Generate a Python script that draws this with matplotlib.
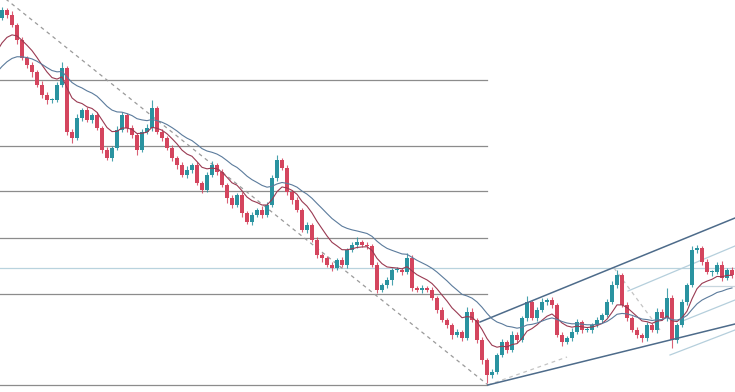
import numpy as np
import pandas as pd
import matplotlib
matplotlib.use("Agg")
import matplotlib.pyplot as plt

# Closing prices: a short lead-in that feeds the moving averages, then the visible session
lead_close = [290, 296, 292, 305, 312, 320, 318, 332, 345, 352, 365, 374]
close = [
    382, 377, 367, 352, 334, 327, 320, 307, 297, 292,
    292, 307, 324, 260, 254, 274, 282, 272, 277, 264,
    242, 234, 244, 262, 277, 264, 257, 242, 260, 264,
    284, 260, 254, 244, 234, 227, 217, 222, 227, 209,
    202, 217, 227, 220, 207, 194, 187, 197, 179, 170,
    177, 182, 177, 187, 214, 232, 224, 200, 192, 182,
    162, 167, 152, 137, 134, 127, 124, 132, 127, 142,
    147, 150, 147, 146, 127, 102, 107, 112, 122, 122,
    120, 134, 104, 102, 104, 102, 94, 82, 72, 67,
    57, 60, 54, 80, 72, 52, 32, 17, 20, 37,
    50, 42, 57, 52, 74, 90, 74, 82, 90, 92,
    87, 57, 50, 54, 60, 70, 62, 62, 67, 72,
    77, 90, 107, 117, 87, 74, 62, 57, 54, 67,
    62, 80, 74, 94, 52, 67, 90, 107, 142, 144,
    130, 120, 120, 127, 114, 122, 117,
]

# Wick lengths beyond the candle body (upper / lower)
lead_upper = [2, 3, 2, 3, 2, 3, 2, 3, 2, 3, 2, 3]
upper_wick = [
    3, 2, 4, 2, 3, 2, 3, 2, 4, 3,
    2, 3, 6, 2, 3, 4, 2, 3, 2, 3,
    2, 3, 2, 4, 3, 2, 3, 2, 3, 4,
    8, 2, 3, 2, 3, 2, 3, 4, 2, 3,
    2, 3, 4, 2, 3, 2, 3, 2, 3, 2,
    3, 2, 4, 3, 3, 5, 2, 3, 2, 3,
    2, 3, 2, 3, 2, 2, 3, 2, 3, 2,
    3, 5, 2, 3, 2, 3, 2, 3, 2, 3,
    2, 5, 3, 2, 3, 2, 3, 2, 3, 2,
    2, 3, 2, 5, 4, 2, 3, 2, 3, 2,
    3, 2, 4, 3, 2, 6, 2, 3, 4, 2,
    3, 2, 3, 2, 4, 3, 2, 3, 2, 3,
    2, 3, 4, 5, 2, 3, 2, 3, 2, 3,
    2, 4, 3, 10, 3, 2, 3, 2, 4, 3,
    2, 3, 2, 3, 4, 2, 3,
]
lead_lower = [3, 2, 3, 2, 3, 2, 3, 2, 3, 2, 3, 2]
lower_wick = [
    2, 3, 2, 4, 2, 3, 5, 2, 3, 4,
    3, 2, 2, 3, 5, 2, 3, 2, 3, 2,
    3, 2, 3, 2, 2, 4, 3, 5, 2, 2,
    3, 2, 3, 2, 3, 4, 2, 3, 3, 2,
    3, 2, 2, 3, 2, 5, 3, 2, 4, 2,
    3, 2, 3, 2, 2, 3, 2, 3, 4, 2,
    2, 3, 2, 3, 4, 2, 3, 2, 2, 3,
    2, 3, 2, 3, 2, 3, 2, 3, 5, 2,
    3, 2, 3, 2, 3, 2, 2, 3, 2, 3,
    4, 2, 3, 2, 2, 3, 4, 8, 3, 2,
    2, 3, 2, 3, 2, 3, 2, 3, 2, 3,
    3, 2, 4, 2, 3, 2, 3, 2, 3, 2,
    3, 2, 2, 3, 2, 3, 2, 3, 4, 3,
    2, 3, 2, 3, 8, 3, 2, 3, 2, 3,
    3, 2, 4, 2, 3, 2, 3,
]

# Retracement levels drawn across the decline, and the pivot level across the whole chart
fib_levels = [312, 246, 201, 154, 98, 7]
fib_span = (-0.4, 97.0)
pivot_level = 124
minor_level = 106
minor_span = (139.6, 146.6)

# Trend drawings as (bar index, price) anchor pairs
down_trend = [(-1.0, 400), (97.2, 7)]
channel_top = [(95.6, 70), (146.6, 174)]
channel_bottom = [(97.2, 7), (146.6, 68)]
fan_lines = [
    [(125.2, 101), (146.6, 146)],
    [(135.6, 70), (146.6, 92)],
    [(133.6, 37), (146.6, 62)],
]
swing_links = [
    [(97.2, 7), (113.0, 35)],
    [(122.4, 124), (131.6, 62)],
]

fast_span = 9
slow_span = 21

closes = np.array(lead_close + close, dtype=float)
n_lead = len(lead_close)
idx = np.arange(len(closes)) - n_lead
opens = np.r_[closes[0], closes[:-1]]
highs = np.maximum(opens, closes) + np.array(lead_upper + upper_wick, dtype=float)
lows = np.minimum(opens, closes) - np.array(lead_lower + lower_wick, dtype=float)

series = pd.Series(closes)
fast_ma = series.ewm(span=fast_span, adjust=False).mean().to_numpy()
slow_ma = series.ewm(span=slow_span, adjust=False).mean().to_numpy()

BULL = "#2a93a0"
BEAR = "#d4455e"

fig = plt.figure(figsize=(7.35, 3.92), dpi=100)
ax = fig.add_axes([0, 0, 1, 1])
ax.set_xlim(-0.4, 146.6)
ax.set_ylim(0, 392)
ax.axis("off")

# horizontal levels
for lvl in fib_levels:
    ax.plot(fib_span, [lvl, lvl], color="#8c8c8c", lw=0.9, zorder=1)
ax.axhline(pivot_level, color="#b9d3de", lw=0.9, zorder=1)
ax.plot(minor_span, [minor_level, minor_level], color="#c8d6de", lw=0.9, zorder=1)

# trend drawings
(x0, y0), (x1, y1) = down_trend
ax.plot([x0, x1], [y0, y1], color="#9a9a9a", lw=0.9, ls=(0, (3, 3)), zorder=1)
for seg in swing_links:
    (x0, y0), (x1, y1) = seg
    ax.plot([x0, x1], [y0, y1], color="#c4c4c4", lw=0.9, ls=(0, (3, 3)), zorder=1)
for seg in fan_lines:
    (x0, y0), (x1, y1) = seg
    ax.plot([x0, x1], [y0, y1], color="#b5cfdc", lw=0.9, zorder=1)
for seg in (channel_top, channel_bottom):
    (x0, y0), (x1, y1) = seg
    ax.plot([x0, x1], [y0, y1], color="#4d6b8a", lw=1.1, zorder=4)

# candles
up = closes >= opens
colors = np.where(up, BULL, BEAR)
ax.vlines(idx, lows, highs, colors=colors, lw=0.8, alpha=0.85, zorder=2)
body = np.where(np.abs(closes - opens) < 1, 1.0, closes - opens)
ax.bar(idx, body, bottom=opens, width=0.62, color=colors, linewidth=0, zorder=3)

# moving averages
ax.plot(idx, fast_ma, color="#9a3a52", lw=0.8, zorder=5)
ax.plot(idx, slow_ma, color="#5b7b9c", lw=0.8, zorder=5)

fig.savefig("out.png", dpi=100, facecolor="white")
